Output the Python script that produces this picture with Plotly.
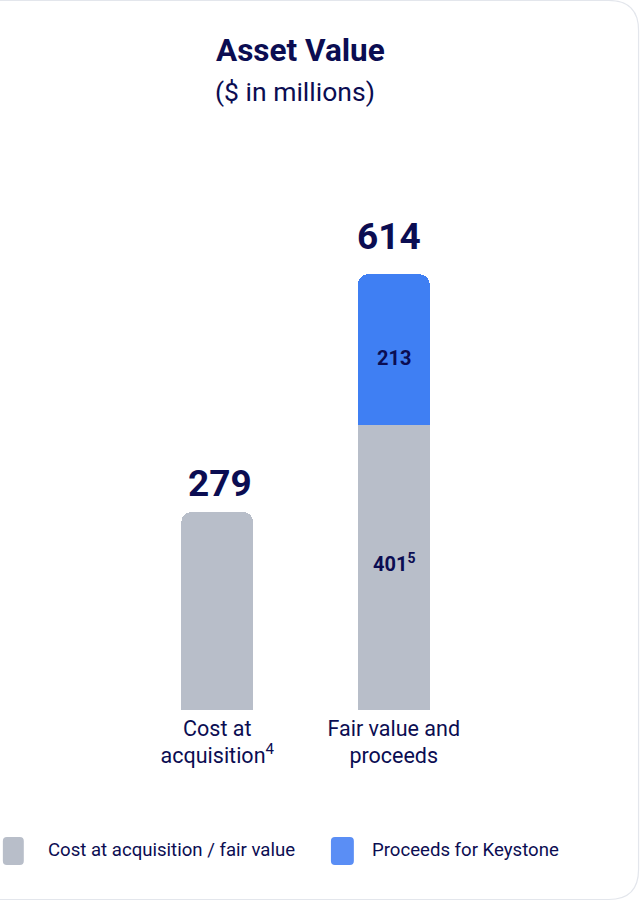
import plotly.graph_objects as go

categories = ["Cost at<br>acquisition<sup>4</sup>", "Fair value and<br>proceeds"]
cost_values = [279, 401]
proceeds_values = [None, 213]
totals = [279, 614]
cost_labels = [None, "401<sup>5</sup>"]
proceeds_labels = [None, "213"]
legend_names = ["Cost at acquisition / fair value", "Proceeds for Keystone"]

NAVY = "#0B0D52"
GRAY = "#B8BEC9"
BLUE = "#3F7FF3"
BLUE_LEG = "#5A8EF5"
FONT = "Roboto"

fig = go.Figure()
fig.add_trace(go.Bar(
    x=[0, 1], y=cost_values, name=legend_names[0], marker_color=GRAY,
    marker_line_width=0,
    width=0.407, showlegend=False, hoverinfo="skip"))
fig.add_trace(go.Bar(
    x=[0, 1], y=proceeds_values, name=legend_names[1], marker_color=BLUE,
    marker_line_width=0,
    width=0.407, showlegend=False, hoverinfo="skip"))

# segment labels
for i in range(2):
    if cost_labels[i]:
        fig.add_annotation(x=i, y=cost_values[i] / 2, text=f"<b>{cost_labels[i]}</b>",
                           showarrow=False, yshift=5,
                           font=dict(family=FONT, size=20, color=NAVY))
    if proceeds_labels[i]:
        fig.add_annotation(x=i, y=cost_values[i] + proceeds_values[i] / 2,
                           text=f"<b>{proceeds_labels[i]}</b>",
                           showarrow=False, yshift=-8,
                           font=dict(family=FONT, size=20, color=NAVY))

total_shifts = [(3, 5), (-5, 14)]
for i, t in enumerate(totals):
    xs, ys = total_shifts[i]
    fig.add_annotation(x=i, y=t, text=f"<b>{t}</b>", showarrow=False,
                       yanchor="bottom", yshift=ys, xshift=xs,
                       font=dict(family=FONT, size=37, color=NAVY))

# plot area geometry (pixels): x 128.5..482.5, y 200..710
L, R, T, B = 128.5, 482.5, 200, 710
def px(x): return (x - L) / (R - L)
def py(y): return (B - y) / (B - T)

shapes = []
# card border
r = 30
x0, x1, y0, y1 = -20, 639.5, 0.5, 899.5
path = (f"M {px(x0)},{py(y0)} L {px(x1 - r)},{py(y0)} "
        f"Q {px(x1)},{py(y0)} {px(x1)},{py(y0 + r)} "
        f"L {px(x1)},{py(y1 - r)} "
        f"Q {px(x1)},{py(y1)} {px(x1 - r)},{py(y1)} "
        f"L {px(x0)},{py(y1)}")
shapes.append(dict(type="path", xref="paper", yref="paper", path=path,
                   line=dict(color="#E3E6EC", width=1.2), layer="below"))

def rrect(xa, ya, xb, yb, rr):
    return (f"M {px(xa + rr)},{py(ya)} L {px(xb - rr)},{py(ya)} "
            f"Q {px(xb)},{py(ya)} {px(xb)},{py(ya + rr)} "
            f"L {px(xb)},{py(yb - rr)} Q {px(xb)},{py(yb)} {px(xb - rr)},{py(yb)} "
            f"L {px(xa + rr)},{py(yb)} Q {px(xa)},{py(yb)} {px(xa)},{py(yb - rr)} "
            f"L {px(xa)},{py(ya + rr)} Q {px(xa)},{py(ya)} {px(xa + rr)},{py(ya)} Z")

swatches = [((2, 837, 23, 865), GRAY), ((331, 837, 354, 865), BLUE_LEG)]
for (xa, ya, xb, yb), col in swatches:
    shapes.append(dict(type="path", xref="paper", yref="paper",
                       path=rrect(xa, ya, xb, yb, 4), fillcolor=col,
                       line=dict(width=0)))
for name, xt in zip(legend_names, [45, 370]):
    fig.add_annotation(xref="paper", yref="paper", x=px(xt), y=py(850),
                       xanchor="left", yanchor="middle", showarrow=False,
                       text=name, font=dict(family=FONT, size=18.6, color=NAVY))

# title
fig.add_annotation(xref="paper", yref="paper", x=px(300), y=py(51),
                   xanchor="center", yanchor="middle", showarrow=False,
                   text="<b>Asset Value</b>",
                   font=dict(family=FONT, size=31.5, color=NAVY))
fig.add_annotation(xref="paper", yref="paper", x=px(295), y=py(91),
                   xanchor="center", yanchor="middle", showarrow=False,
                   text="($ in millions)",
                   font=dict(family=FONT, size=26.5, color=NAVY))

fig.update_layout(
    width=641, height=901,
    margin=dict(l=L, r=641 - R, t=T, b=901 - B, pad=0),
    paper_bgcolor="white", plot_bgcolor="white",
    barmode="stack", barcornerradius=10,
    shapes=shapes, showlegend=False,
    xaxis=dict(range=[-0.5, 1.5], tickmode="array", tickvals=[0, 1],
               ticktext=categories, showgrid=False, zeroline=False,
               showline=False, ticks="", ticklabelstandoff=3,
               tickfont=dict(family=FONT, size=21.5, color=NAVY)),
    yaxis=dict(range=[0, (B - T) / 0.7097], visible=False),
)
fig.write_html("out.html", config={"displayModeBar": False},
               post_script="document.body.style.margin='0';")
